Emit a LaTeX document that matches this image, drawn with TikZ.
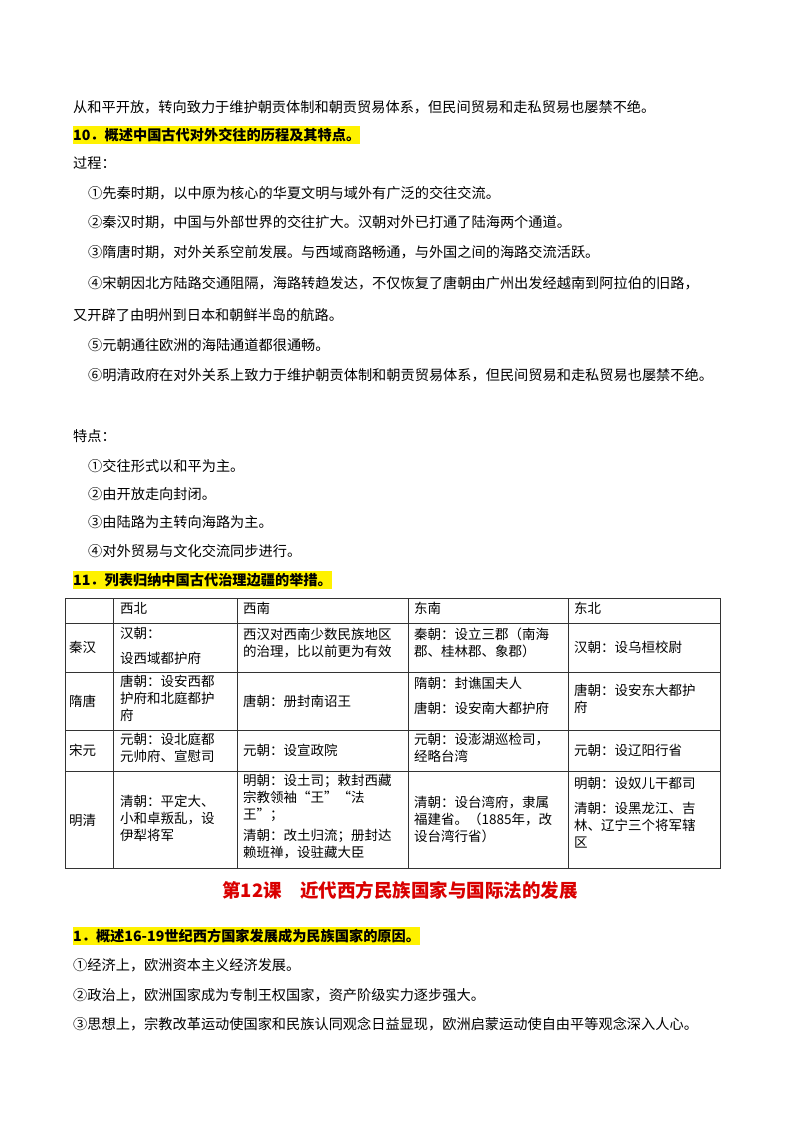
\documentclass[tikz,border=0pt]{standalone}
\usepackage{fontspec}
\setmainfont{Noto Sans CJK SC}
\begin{document}
\begin{tikzpicture}[x=1pt,y=-1pt,
 t/.style={anchor=west,inner sep=0pt,font=\fontsize{14.2}{17}\selectfont},
 h/.style={t,fill=yellow,font=\fontsize{14.2}{17}\selectfont\bfseries,inner ysep=2pt},
 c/.style={anchor=north west,inner sep=0pt,align=left,font=\fontsize{13.5}{17}\selectfont},
 g/.style={line width=0.8pt,black!80}]
\useasboundingbox (0,0) rectangle (800,1132);
\fill[white] (0,0) rectangle (800,1132);
\node[t] (l1) at (73,107) {从和平开放，转向致力于维护朝贡体制和朝贡贸易体系，但民间贸易和走私贸易也屡禁不绝。};
\node[h] (h10) at (73,135) {10．概述中国古代对外交往的历程及其特点。};
\node[t] (gc) at (73,163) {过程：};
\node[t] (p1) at (88,193) {①先秦时期，以中原为核心的华夏文明与域外有广泛的交往交流。};
\node[t] (p2) at (88,222) {②秦汉时期，中国与外部世界的交往扩大。汉朝对外已打通了陆海两个通道。};
\node[t] (p3) at (88,252) {③隋唐时期，对外关系空前发展。与西域商路畅通，与外国之间的海路交流活跃。};
\node[t] (p4) at (88,283) {④宋朝因北方陆路交通阻隔，海路转趋发达，不仅恢复了唐朝由广州出发经越南到阿拉伯的旧路，};
\node[t] (p4b) at (73,315) {又开辟了由明州到日本和朝鲜半岛的航路。};
\node[t] (p5) at (88,345) {⑤元朝通往欧洲的海陆通道都很通畅。};
\node[t] (p6) at (88,375) {⑥明清政府在对外关系上致力于维护朝贡体制和朝贡贸易体系，但民间贸易和走私贸易也屡禁不绝。};
\node[t] (td) at (73,436) {特点：};
\node[t] (q1) at (88,466) {①交往形式以和平为主。};
\node[t] (q2) at (88,494) {②由开放走向封闭。};
\node[t] (q3) at (88,522) {③由陆路为主转向海路为主。};
\node[t] (q4) at (88,551) {④对外贸易与文化交流同步进行。};
\node[h] (h11) at (73,580) {11．列表归纳中国古代治理边疆的举措。};
% table
\draw[g] (65,598) rectangle (720,868);
\foreach \y in {623,672,730,771} \draw[g] (65,\y) -- (720,\y);
\foreach \x in {113,237,408,568} \draw[g] (\x,598) -- (\x,868);
\node[c] (c01) at (120,602) {西北};
\node[c] (c02) at (243,602) {西南};
\node[c] (c03) at (414,602) {东南};
\node[c] (c04) at (574,602) {东北};
\node[c,anchor=west] (r1) at (69,647) {秦汉};
\node[c,anchor=west] (r2) at (69,701) {隋唐};
\node[c,anchor=west] (r3) at (69,750) {宋元};
\node[c,anchor=west] (r4) at (69,820) {明清};
\node[c,font=\fontsize{13.5}{25}\selectfont] (c11) at (120,627) {汉朝：\\设西域都护府};
\node[c] (c12) at (243,628) {西汉对西南少数民族地区\\的治理，比以前更为有效};
\node[c] (c13) at (414,628) {秦朝：设立三郡（南海\\郡、桂林郡、象郡）};
\node[c,anchor=west] (c14) at (574,647) {汉朝：设乌桓校尉};
\node[c] (c21) at (120,675) {唐朝：设安西都\\护府和北庭都护\\府};
\node[c,anchor=west] (c22) at (243,701) {唐朝：册封南诏王};
\node[c,font=\fontsize{13.5}{25}\selectfont] (c23) at (414,677) {隋朝：封谯国夫人\\唐朝：设安南大都护府};
\node[c] (c24) at (574,684) {唐朝：设安东大都护\\府};
\node[c] (c31) at (120,733) {元朝：设北庭都\\元帅府、宣慰司};
\node[c,anchor=west] (c32) at (243,750) {元朝：设宣政院};
\node[c] (c33) at (414,733) {元朝：设澎湖巡检司，\\经略台湾};
\node[c,anchor=west] (c34) at (574,750) {元朝：设辽阳行省};
\node[c] (c41) at (120,795) {清朝：平定大、\\小和卓叛乱，设\\伊犁将军};
\node[c] (c42) at (243,774) {明朝：设土司；敕封西藏\\宗教领袖“王”“法\\王”；};
\node[c] (c42b) at (243,829) {清朝：改土归流；册封达\\赖班禅，设驻藏大臣};
\node[c] (c43) at (414,796) {清朝：设台湾府，隶属\\福建省。（1885年，改\\设台湾行省）};
\node[c] (c44) at (574,777) {明朝：设奴儿干都司};
\node[c] (c44b) at (574,802) {清朝：设黑龙江、吉\\林、辽宁三个将军辖\\区};
\node[anchor=center,inner sep=0pt,text=red!85!black,font=\fontsize{18.5}{22}\selectfont\bfseries] (title) at (400,890) {第12课\quad 近代西方民族国家与国际法的发展};
\node[h] (h1) at (73,936) {1．概述16-19世纪西方国家发展成为民族国家的原因。};
\node[t] (s1) at (73,965) {①经济上，欧洲资本主义经济发展。};
\node[t] (s2) at (73,995) {②政治上，欧洲国家成为专制王权国家，资产阶级实力逐步强大。};
\node[t] (s3) at (73,1024) {③思想上，宗教改革运动使国家和民族认同观念日益显现，欧洲启蒙运动使自由平等观念深入人心。};
\end{tikzpicture}
\end{document}
